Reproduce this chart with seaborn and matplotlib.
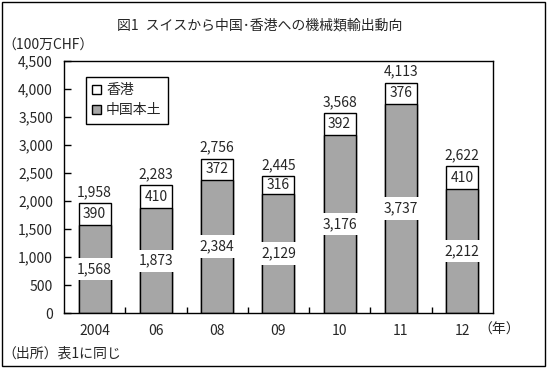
import numpy as np
import pandas as pd
import matplotlib

matplotlib.use("Agg")
import matplotlib.pyplot as plt
import seaborn as sns
from matplotlib.patches import Patch, Rectangle
from matplotlib.ticker import FuncFormatter, FixedLocator

# --- dati (100万CHF) ---------------------------------------------------------
anni = ["2004", "06", "08", "09", "10", "11", "12"]
cina = [1568, 1873, 2384, 2129, 3176, 3737, 2212]
hongkong = [390, 410, 372, 316, 392, 376, 410]

GRIGIO = "#a6a6a6"

sns.set_theme(style="ticks")
plt.rcParams["font.family"] = ["Noto Sans CJK JP", "DejaVu Sans"]
FS = 10

df = pd.DataFrame({"anno": anni, "cina": cina, "hk": hongkong})
df["totale"] = df["cina"] + df["hk"]

fig = plt.figure(figsize=(5.47, 3.68), dpi=100)
ax = fig.add_axes([0.117, 0.149, 0.784, 0.685])

sns.barplot(data=df, x="anno", y="totale", color="white", edgecolor="black",
            linewidth=1, width=0.52, saturation=1, ax=ax)
sns.barplot(data=df, x="anno", y="cina", color=GRIGIO, edgecolor="black",
            linewidth=1, width=0.52, saturation=1, ax=ax)

for i, r in df.iterrows():
    ax.text(i, r["cina"] / 2, f"{r['cina']:,}", ha="center", va="center", fontsize=FS,
            bbox=dict(boxstyle="square,pad=0.3", fc="white", ec="none"))
    ax.text(i, r["cina"] + r["hk"] / 2, f"{r['hk']}", ha="center", va="center", fontsize=FS)
    ax.annotate(f"{r['totale']:,}", (i, r["totale"]), xytext=(0, 3), textcoords="offset points",
                ha="center", va="bottom", fontsize=FS)

ax.set_xlim(-0.5, len(anni) - 0.5)
ax.set_ylim(0, 4500)
ax.set_yticks(np.arange(0, 4501, 500))
ax.yaxis.set_major_formatter(FuncFormatter(lambda v, p: f"{int(v):,}"))
ax.tick_params(axis="y", direction="in", length=5, width=1, color="black", labelsize=FS, pad=8)
ax.tick_params(axis="x", which="major", length=0, labelsize=FS, pad=8)
ax.xaxis.set_minor_locator(FixedLocator(np.arange(0.5, len(anni) - 1, 1)))
ax.tick_params(axis="x", which="minor", direction="in", length=4, width=1, color="black")
ax.set_xlabel("")
ax.set_ylabel("")
for s in ax.spines.values():
    s.set_visible(True)
    s.set_color("black")
    s.set_linewidth(1)

handles = [Patch(fc="white", ec="black", lw=1, label="香港"),
           Patch(fc=GRIGIO, ec="black", lw=1, label="中国本土")]
ax.legend(handles=handles, loc="upper left", bbox_to_anchor=(0.035, 0.965), fontsize=FS,
          frameon=True, fancybox=False, edgecolor="black", framealpha=1,
          handlelength=0.6, handleheight=0.6, handletextpad=0.4, borderpad=0.45, labelspacing=0.45)

fig.text(0.475, 0.93, "図1\u2002スイスから中国･香港への機械類輸出動向", ha="center", va="center", fontsize=FS)
fig.text(0.005, 0.875, "（100万CHF）", ha="left", va="center", fontsize=FS)
fig.text(0.875, 0.103, "（年）", ha="left", va="center", fontsize=FS)
fig.text(0.005, 0.04, "（出所）表1に同じ", ha="left", va="center", fontsize=FS)

fig.patches.append(Rectangle((0.004, 0.005), 0.992, 0.99, transform=fig.transFigure,
                             fill=False, ec="black", lw=1))

fig.savefig("out.png", dpi=100)
plt.close(fig)
